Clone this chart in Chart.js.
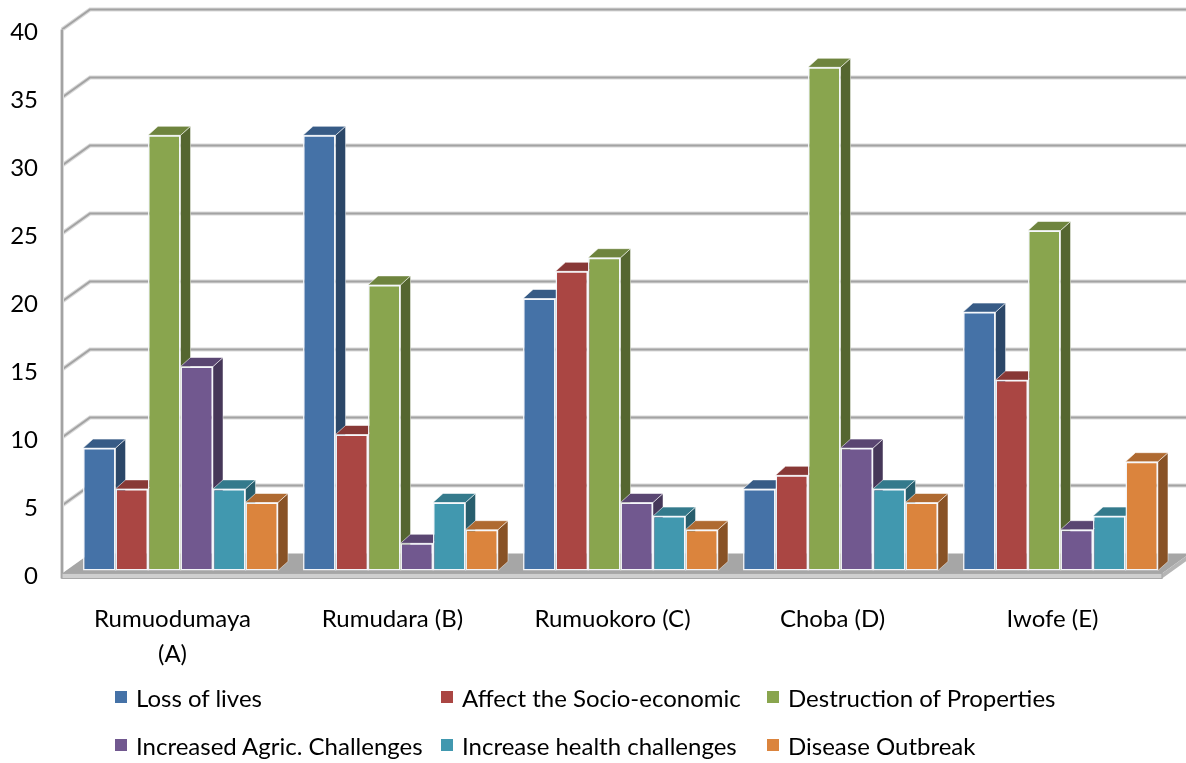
<!DOCTYPE html>
<html>
<head>
<meta charset="utf-8">
<title>Flood impacts by community</title>
<script src="https://cdn.jsdelivr.net/npm/chart.js@4.4.0/dist/chart.umd.min.js"></script>
<style>
  html, body { margin: 0; padding: 0; background: #ffffff; }
  #wrap { position: relative; width: 1186px; height: 763px; overflow: hidden; }
  #chart { position: absolute; left: 0; top: 0; }
  #legend {
    position: absolute; left: 115px; top: 673px;
    display: grid; grid-template-columns: 326px 326px auto; grid-auto-rows: 48px;
    font-family: Lato, "Open Sans", sans-serif; font-size: 24px; color: #000;
  }
  #legend .item { display: flex; align-items: center; white-space: nowrap; }
  #legend .box { width: 12px; height: 12px; margin-right: 9px; flex: none; }
</style>
</head>
<body>
<div id="wrap">
  <canvas id="chart" width="1186" height="763"></canvas>
  <div id="legend"></div>
</div>
<script>
// Communities (x axis)
const categories = [['Rumuodumaya', '(A)'], 'Rumudara (B)', 'Rumuokoro (C)', 'Choba (D)', 'Iwofe (E)'];

// Responses per impact
const lossOfLives             = [9, 32, 20, 6, 19];
const socioEconomic           = [6, 10, 22, 7, 14];
const destructionOfProperties = [32, 21, 23, 37, 25];
const agricChallenges         = [15, 2, 5, 9, 3];
const healthChallenges        = [6, 5, 4, 6, 4];
const diseaseOutbreak         = [5, 3, 3, 5, 8];

const seriesNames = ['Loss of lives', 'Affect the Socio-economic', 'Destruction of Properties',
                     'Increased Agric. Challenges', 'Increase health challenges', 'Disease Outbreak'];
const seriesValues = [lossOfLives, socioEconomic, destructionOfProperties,
                      agricChallenges, healthChallenges, diseaseOutbreak];
const seriesColors = ['#4572A7', '#AA4643', '#89A54E', '#71588F', '#4198AF', '#DB843D'];

// Value axis
const yMin = 0, yMax = 40, yStep = 5;

function shade(hex, f) {
  const n = parseInt(hex.slice(1), 16);
  const r = Math.round(((n >> 16) & 255) * f);
  const g = Math.round(((n >> 8) & 255) * f);
  const b = Math.round((n & 255) * f);
  return `rgb(${r},${g},${b})`;
}

// Perspective offsets (pixels) for the box look
const BAR_DX = 10, BAR_DY = -9;        // depth of each bar
const FRONT_DX = -8.5, FRONT_DY = 3;   // front edge of the floor / left axis
const BACK_DX = 19.5, BACK_DY = -17;   // back wall

function poly(ctx, pts, fill, stroke, lw) {
  ctx.beginPath();
  ctx.moveTo(pts[0][0], pts[0][1]);
  for (let i = 1; i < pts.length; i++) ctx.lineTo(pts[i][0], pts[i][1]);
  ctx.closePath();
  if (fill) { ctx.fillStyle = fill; ctx.fill(); }
  if (stroke) { ctx.strokeStyle = stroke; ctx.lineWidth = lw || 1; ctx.stroke(); }
}

// Draws back wall, floor and the 3D bars (side, top, then front face) in painter's order.
const boxPlugin = {
  id: 'box3d',
  beforeDatasetsDraw(chart) {
    const { ctx, chartArea: a, scales: { y } } = chart;
    const canvasW = chart.width;
    ctx.save();

    const y0 = y.getPixelForValue(0);
    const fl = a.left + FRONT_DX, fr = a.right + FRONT_DX;
    const fy0 = y0 + FRONT_DY;
    const bl = a.left + BACK_DX;

    // grid on back wall with diagonals on the left wall
    for (let v = yMin + yStep; v <= yMax; v += yStep) {
      const p = y.getPixelForValue(v);
      ctx.beginPath();
      ctx.moveTo(fl, p + FRONT_DY);
      ctx.lineTo(bl, p + BACK_DY);
      ctx.lineTo(canvasW + 5, p + BACK_DY);
      ctx.strokeStyle = '#d9d9d9';
      ctx.lineWidth = 4;
      ctx.stroke();
      ctx.strokeStyle = '#a3a3a3';
      ctx.lineWidth = 2;
      ctx.stroke();
    }

    // left axis edge
    const topP = y.getPixelForValue(yMax) + FRONT_DY;
    ctx.beginPath();
    ctx.moveTo(fl, topP);
    ctx.lineTo(fl, fy0 + 5);
    ctx.strokeStyle = '#d9d9d9'; ctx.lineWidth = 4; ctx.stroke();
    ctx.strokeStyle = '#a3a3a3'; ctx.lineWidth = 2; ctx.stroke();

    // floor: top, front strip and right edge
    const dxF = BACK_DX - FRONT_DX, dyF = BACK_DY - FRONT_DY;
    poly(ctx, [[fl, fy0], [fr, fy0], [fr + dxF, fy0 + dyF], [fl + dxF, fy0 + dyF]], '#a6a6a6');
    poly(ctx, [[fr, fy0], [fr + dxF, fy0 + dyF], [fr + dxF, fy0 + dyF + 5], [fr, fy0 + 5]], '#b5b5b5');
    poly(ctx, [[fl, fy0], [fr, fy0], [fr, fy0 + 5], [fl, fy0 + 5]], '#cfcfcf', '#a9a9a9', 1.2);

    // bars
    const metas = chart.getSortedVisibleDatasetMetas().slice().sort((m1, m2) => m1.index - m2.index);
    const n = chart.data.labels.length;
    for (let i = 0; i < n; i++) {
      for (const meta of metas) {
        const el = meta.data[i];
        if (!el) continue;
        const { x, y: top, base, width } = el.getProps(['x', 'y', 'base', 'width'], true);
        const col = seriesColors[meta.index];
        const L = x - width / 2, R = x + width / 2;
        // right side
        poly(ctx, [[R, top], [R + BAR_DX, top + BAR_DY], [R + BAR_DX, base + BAR_DY], [R, base]],
             shade(col, 0.62), 'rgba(255,255,255,0.45)', 1);
        // top
        poly(ctx, [[L, top], [L + BAR_DX, top + BAR_DY], [R + BAR_DX, top + BAR_DY], [R, top]],
             shade(col, 0.8), 'rgba(255,255,255,0.55)', 1);
        // front face through the bar element itself
        el.draw(ctx, a);
      }
    }
    ctx.restore();
    return false;
  }
};

const chart = new Chart(document.getElementById('chart'), {
  type: 'bar',
  data: {
    labels: categories,
    datasets: seriesNames.map((name, k) => ({
      label: name,
      data: seriesValues[k],
      backgroundColor: seriesColors[k],
      borderColor: 'rgba(245,248,252,0.95)',
      borderWidth: 1.5,
      borderSkipped: false,
      categoryPercentage: 0.886,
      barPercentage: 1.0
    }))
  },
  options: {
    responsive: false,
    animation: false,
    events: [],
    layout: { padding: { left: 0, right: 15.5, top: 26.5, bottom: 0 } },
    plugins: { legend: { display: false }, tooltip: { enabled: false } },
    scales: {
      x: {
        grid: { display: false, drawTicks: false },
        border: { display: false },
        ticks: {
          color: '#000',
          font: { family: 'Lato', size: 24, lineHeight: 1.46 },
          padding: 31,
          labelOffset: -8,
          maxRotation: 0,
          autoSkip: false
        },
        afterFit(s) { s.height = 192.5; s.paddingLeft = 0; s.paddingRight = 0; }
      },
      y: {
        min: yMin, max: yMax,
        grid: { display: false, drawTicks: false },
        border: { display: false },
        ticks: {
          stepSize: yStep,
          color: '#000',
          font: { family: 'Lato', size: 24 },
          padding: 32.5,
          labelOffset: 5.5
        },
        afterFit(s) { s.width = 70.5; s.paddingTop = 0; s.paddingBottom = 0; }
      }
    }
  },
  plugins: [boxPlugin]
});

// legend built from the chart's datasets
const legendEl = document.getElementById('legend');
chart.data.datasets.forEach(ds => {
  const item = document.createElement('div');
  item.className = 'item';
  const box = document.createElement('span');
  box.className = 'box';
  box.style.background = ds.backgroundColor;
  const txt = document.createElement('span');
  txt.textContent = ds.label;
  item.appendChild(box);
  item.appendChild(txt);
  legendEl.appendChild(item);
});
</script>
</body>
</html>
